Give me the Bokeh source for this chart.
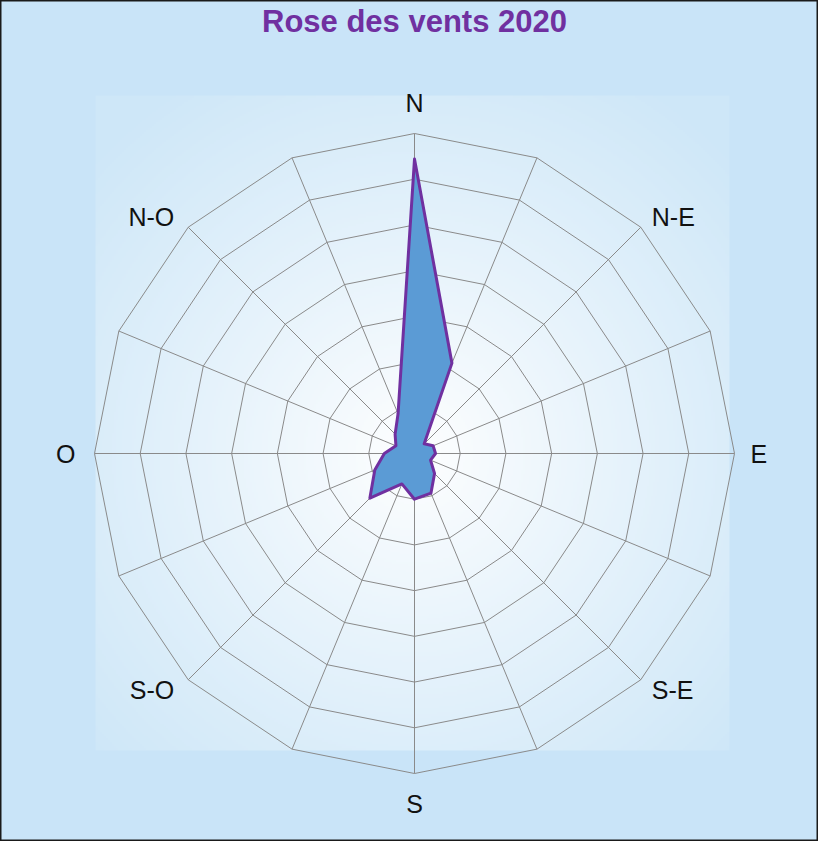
import numpy as np
from bokeh.plotting import figure
from bokeh.models import ColumnDataSource
from bokeh.core.properties import value
from bokeh.embed import file_html
from bokeh.resources import INLINE

# ---------------- data ----------------
title_text = "Rose des vents 2020"
directions = ["N", "NNE", "NE", "ENE", "E", "ESE", "SE", "SSE",
              "S", "SSW", "SW", "WSW", "W", "WNW", "NW", "NNW"]
dir_labels = ["N", "", "N-E", "", "E", "", "S-E", "",
              "S", "", "S-O", "", "O", "", "N-O", ""]
frequencies = [32.2, 10.7, 1.5, 2.2, 2.3, 1.9, 3.1, 4.7,
               5.0, 3.6, 6.9, 4.7, 3.3, 2.2, 3.0, 4.7]
ring_values = [5, 10, 15, 20, 25, 30, 35]

# label placement styles (pixel offsets from outer vertex, alignment)
label_align = {"N": "center", "N-E": "left", "E": "left", "S-E": "left",
               "S": "center", "S-O": "right", "O": "right", "N-O": "right"}
label_dx = {"N": 0, "N-E": 11, "E": 16, "S-E": 11, "S": 0, "S-O": -14, "O": -19, "N-O": -14}
label_dy = {"N": -31, "N-E": -10, "E": 0, "S-E": 10, "S": 30, "S-O": 10, "O": 0, "N-O": -10}

# ---------------- geometry / layout ----------------
W, H = 818, 841
CX, CY = 414, 453            # radar centre in figure pixels (from top-left)
R_PX = 320                   # outer ring radius in pixels
r_max = ring_values[-1]
k = R_PX / r_max             # pixels per data unit

x_start = -CX / k
x_end = (W - CX) / k
y_start = -(H - CY) / k
y_end = CY / k

def px_to_data(fx, fy):
    return (fx - CX) / k, (CY - fy) / k

n = len(directions)
theta = np.deg2rad(np.arange(n) * 360.0 / n)   # clockwise from North
sin_t, cos_t = np.sin(theta), np.cos(theta)

p = figure(width=W, height=H, x_range=(x_start, x_end), y_range=(y_start, y_end),
           output_backend="svg", toolbar_location=None, min_border=0)
p.axis.visible = False
p.grid.visible = False
p.background_fill_color = "#C9E4F8"
p.border_fill_color = "#C9E4F8"
p.outline_line_color = "#1a1a1a"
p.outline_line_width = 2

# ---------------- radial gradient plot area ----------------
fx0, fy0, fx1, fy1 = 95, 95, 729, 750
nx, ny = (fx1 - fx0) // 2, (fy1 - fy0) // 2
xs_px = fx0 + (np.arange(nx) + 0.5) * (fx1 - fx0) / nx
ys_px = fy1 - (np.arange(ny) + 0.5) * (fy1 - fy0) / ny   # row 0 = bottom
XX, YY = np.meshgrid(xs_px, ys_px)
d = np.sqrt((XX - CX) ** 2 + (YY - CY) ** 2)
t = np.clip(d / 440.0, 0, 1) ** 0.9
edge = np.array([206, 231, 248], dtype=float)
img = np.empty((ny, nx), dtype=np.uint32)
view = img.view(dtype=np.uint8).reshape((ny, nx, 4))
for c in range(3):
    view[:, :, c] = (255 * (1 - t) + edge[c] * t).astype(np.uint8)
view[:, :, 3] = 255
gx0, gy1 = px_to_data(fx0, fy0)
gx1, gy0 = px_to_data(fx1, fy1)
p.image_rgba(image=[img], x=gx0, y=gy0, dw=gx1 - gx0, dh=gy1 - gy0)

# ---------------- grid: rings and spokes ----------------
ring_xs = [list(rv * np.append(sin_t, sin_t[0])) for rv in ring_values]
ring_ys = [list(rv * np.append(cos_t, cos_t[0])) for rv in ring_values]
p.multi_line(ring_xs, ring_ys, line_color="#8a8a8a", line_width=1)
p.segment(x0=np.zeros(n), y0=np.zeros(n), x1=r_max * sin_t, y1=r_max * cos_t,
          line_color="#8a8a8a", line_width=1)

# ---------------- data polygon ----------------
vals = np.array(frequencies)
src = ColumnDataSource(dict(x=[list(vals * sin_t)], y=[list(vals * cos_t)]))
p.patches("x", "y", source=src, fill_color="#5B9BD5", fill_alpha=1.0,
          line_color="#7030A0", line_width=3, line_join="round")

# ---------------- direction labels ----------------
lab_idx = [i for i, l in enumerate(dir_labels) if l]
labs = [dir_labels[i] for i in lab_idx]
lab_src = ColumnDataSource(dict(
    x=[r_max * sin_t[i] for i in lab_idx],
    y=[r_max * cos_t[i] for i in lab_idx],
    text=labs,
    align=[label_align[l] for l in labs],
    dx=[label_dx[l] for l in labs],
    dy=[label_dy[l] for l in labs],
))
p.text(x="x", y="y", text="text", source=lab_src, x_offset="dx", y_offset="dy",
       text_align="align", text_baseline="alphabetic",
       text_font=value("Liberation Sans"), text_font_size="25px",
       text_color="#111111")

# ---------------- title ----------------
tx, ty = px_to_data(414, 21)
p.text(x=[tx], y=[ty], text=[title_text], text_font=value("Liberation Sans"),
       text_font_size="31px", text_font_style="bold", text_color="#7030A0",
       text_align="center", text_baseline="alphabetic")

open("out.html", "w").write(file_html(p, INLINE))
